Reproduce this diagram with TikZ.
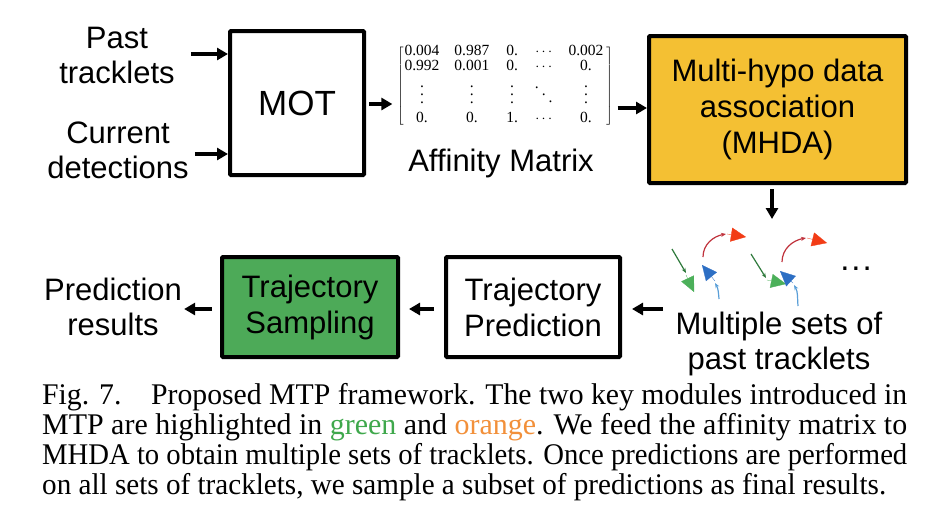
\documentclass[tikz,border=0pt]{standalone}
\usepackage{fontspec}
\setmainfont{Liberation Sans}
\newfontfamily\capfont{Liberation Serif}
\usepackage{graphicx}
\usetikzlibrary{arrows.meta}

\definecolor{sampgreen}{HTML}{4DAA58}
\definecolor{mhdaorange}{HTML}{F4C033}
\definecolor{capgreen}{HTML}{3FA84C}
\definecolor{caporange}{HTML}{F2903A}
\definecolor{trkgreen}{HTML}{2F7A3C}
\definecolor{biggreen}{HTML}{4CB05A}
\definecolor{trkblue}{HTML}{5A9FD8}
\definecolor{bigblue}{HTML}{2D6FC4}
\definecolor{trkred}{HTML}{C0323C}
\definecolor{bigred}{HTML}{F23C16}

\newcommand\capline[2][865pt]{\resizebox{#1}{\height}{#2}}
\newcommand\matvd{\vbox{\baselineskip 8pt\lineskiplimit 0pt\hbox{.}\hbox{.}\hbox{.}}}
\newcommand\matdd{\hbox{\raise15pt\hbox{.}\kern3pt\raise8pt\hbox{.}\kern3pt\raise1pt\hbox{.}}}

\tikzset{
  box/.style={draw=black,line width=4pt,rounded corners=1pt,align=center,
    font=\fontsize{31}{36}\selectfont,inner sep=0pt},
  lbl/.style={align=center,font=\fontsize{31}{35}\selectfont,inner sep=2pt},
  arr/.style={line width=3.5pt,-{Triangle[length=11pt,width=12pt]}},
  thin/.style={line width=1.2pt,-{Stealth[length=5pt,width=4pt]}},
  bigtip/.style={line width=0.3pt,-{Triangle[length=15pt,width=14pt]}}
}

\begin{document}
\begin{tikzpicture}[x=1pt,y=-1pt]
\useasboundingbox[fill=white] (0,0) rectangle (931,523);

% top row
\node[lbl] (past) at (117,55) {Past\\tracklets};
\node[lbl] (cur) at (118,150) {Current\\detections};
\node[box,minimum width=134pt,minimum height=144pt,
  font=\fontsize{35}{40}\selectfont] (mot) at (297,103) {MOT};

\node (mat) at (505,86) {\capfont\fontsize{15.5}{15.5}\selectfont
  $\left[\begin{tabular}{@{\hspace{1pt}}c@{\hspace{15pt}}c@{\hspace{17pt}}c@{\hspace{17pt}}c@{\hspace{16pt}}c@{\hspace{3pt}}}
  0.004 & 0.987 & 0. & $\cdots$ & 0.002\\
  0.992 & 0.001 & 0. & $\cdots$ & 0.\\[10pt]
  \matvd & \matvd & \matvd & \matdd & \matvd\\[4pt]
  0. & 0. & 1. & $\cdots$ & 0.
  \end{tabular}\right]$};
\node[lbl] (afflbl) at (501,163) {Affinity Matrix};

\node[box,fill=mhdaorange,minimum width=257pt,minimum height=147pt] (mhda)
  at (777.5,109.5) {Multi-hypo data\\association\\(MHDA)};

% bottom row
\node[box,fill=sampgreen,minimum width=176pt,minimum height=100pt] (samp)
  at (310,307) {Trajectory\\Sampling};
\node[box,minimum width=174pt,minimum height=100pt] (pred)
  at (533,307) {Trajectory\\Prediction};
\node[lbl] (res) at (113,307) {Prediction\\results};
\node[lbl] (sets) at (779,344) {Multiple sets of\\past tracklets};

\coordinate (tracks) at (663,309);
\coordinate (icons) at (772,219);

% connectors
\draw[arr,shorten <=14pt] (past.east |- 0,54) -- (mot.west |- 0,54);
\draw[arr,shorten <=4pt] (cur.east |- 0,154) -- (mot.west |- 0,154);
\draw[arr,shorten <=3pt,shorten >=1pt] (mot.east |- 0,104) -- (mat.west |- 0,104);
\draw[arr,shorten <=1pt] (mat.east |- 0,108) -- (mhda.west |- 0,108);
\draw[arr,shorten <=4pt] (mhda.south -| icons) -- (icons);
\draw[arr,shorten >=10pt] (tracks) -- (pred.east |- tracks);
\draw[arr,shorten <=10pt,shorten >=9pt] (pred.west |- tracks) -- (samp.east |- tracks);
\draw[arr,shorten <=8pt] (samp.west |- tracks) -- (res.east |- tracks);

% tracklets, first set
\draw[thin,trkgreen] (672,249) -- (686,273);
\draw[bigtip,biggreen] (686,275) -- (694,292);
\draw[thin,trkblue] (719,299) to[out=95,in=-60] (715,283);
\draw[bigtip,bigblue] (715,281) -- (702,265);
\draw[thin,trkred] (703,257) to[out=90,in=190] (726,234);
\draw[bigtip,bigred] (727,234) -- (746,237);

% tracklets, second set
\draw[thin,trkgreen] (751,254) -- (766,278);
\draw[bigtip,biggreen] (767,280) -- (786,284);
\draw[thin,trkblue] (798,306) to[out=95,in=-60] (794,285);
\draw[bigtip,bigblue] (793,283) -- (780,271);
\draw[thin,trkred] (782,262) to[out=90,in=190] (806,238);
\draw[bigtip,bigred] (807,238) -- (827,243);
\node[font=\fontsize{33}{35}\selectfont] (dots) at (856,269) {.\hspace{2pt}.\hspace{2pt}.};

% caption
\node[anchor=north west,align=left,inner sep=0pt,
  font=\capfont\fontsize{30}{30}\selectfont] (cap) at (42,383) {%
  \capline{Fig. 7.\hspace{30pt}Proposed MTP framework. The two key modules introduced in}\\
  \capline{MTP are highlighted in \textcolor{capgreen}{green} and \textcolor{caporange}{orange}. We feed the affinity matrix to}\\
  \capline{MHDA to obtain multiple sets of tracklets. Once predictions are performed}\\
  \capline[844pt]{on all sets of tracklets, we sample a subset of predictions as final results.}};
\end{tikzpicture}
\end{document}
